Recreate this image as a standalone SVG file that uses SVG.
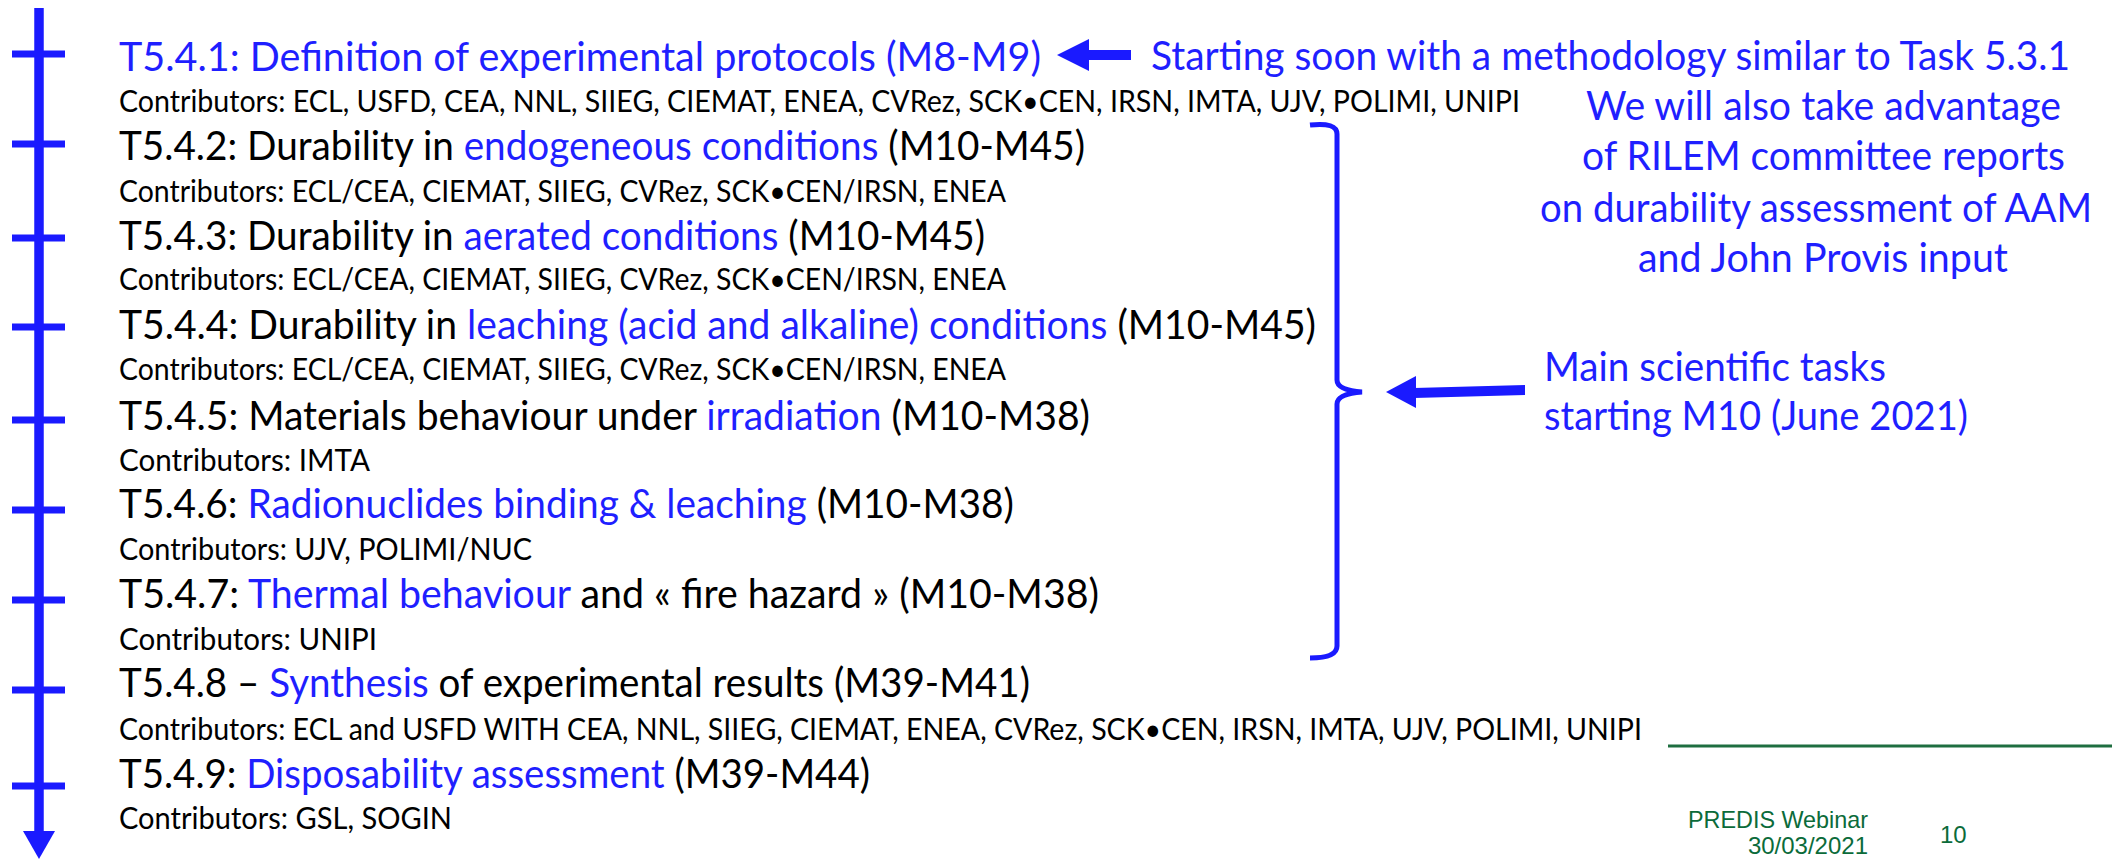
<svg xmlns="http://www.w3.org/2000/svg" width="2112" height="859" viewBox="0 0 2112 859">
<style>
.t{font-family:Lato,"Open Sans","Liberation Sans",sans-serif;font-size:40px;fill:#000}
.c{font-family:Lato,"Open Sans","Liberation Sans",sans-serif;font-size:30px;fill:#000}
.b{fill:#1f1fff}
.note{font-family:Lato,"Open Sans","Liberation Sans",sans-serif;font-size:40px;fill:#1f1fff}
.foot{font-family:"Liberation Sans",Arial,sans-serif;font-size:24px;fill:#0b6b3a}
.tick{stroke:#1a1aff;stroke-width:7}
</style>
<rect width="2112" height="859" fill="#fff"/>
<g id="timeline">
<line x1="39" y1="8" x2="39" y2="834" stroke="#1a1aff" stroke-width="9.5"/>
<polygon points="23,831 55,831 39,859" fill="#1a1aff"/>
<line class="tick" x1="12" y1="54" x2="65" y2="54"/>
<line class="tick" x1="12" y1="144" x2="65" y2="144"/>
<line class="tick" x1="12" y1="238" x2="65" y2="238"/>
<line class="tick" x1="12" y1="327" x2="65" y2="327"/>
<line class="tick" x1="12" y1="420" x2="65" y2="420"/>
<line class="tick" x1="12" y1="510" x2="65" y2="510"/>
<line class="tick" x1="12" y1="600" x2="65" y2="600"/>
<line class="tick" x1="12" y1="690" x2="65" y2="690"/>
<line class="tick" x1="12" y1="786" x2="65" y2="786"/>
</g>
<g id="task1">
<text class="t b" x="119" y="71" textLength="922" lengthAdjust="spacingAndGlyphs">T5.4.1: Definition of experimental protocols (M8-M9)</text>
<text class="c" x="119" y="112" textLength="1401" lengthAdjust="spacingAndGlyphs">Contributors: ECL, USFD, CEA, NNL, SIIEG, CIEMAT, ENEA, CVRez, SCK•CEN, IRSN, IMTA, UJV, POLIMI, UNIPI</text>
</g>
<g id="task2">
<text class="t" x="119" y="160" textLength="966" lengthAdjust="spacingAndGlyphs">T5.4.2: Durability in <tspan class="b">endogeneous conditions</tspan> (M10-M45)</text>
<text class="c" x="119" y="202" textLength="887" lengthAdjust="spacingAndGlyphs">Contributors: ECL/CEA, CIEMAT, SIIEG, CVRez, SCK•CEN/IRSN, ENEA</text>
</g>
<g id="task3">
<text class="t" x="119" y="250" textLength="866" lengthAdjust="spacingAndGlyphs">T5.4.3: Durability in <tspan class="b">aerated conditions</tspan> (M10-M45)</text>
<text class="c" x="119" y="290" textLength="887" lengthAdjust="spacingAndGlyphs">Contributors: ECL/CEA, CIEMAT, SIIEG, CVRez, SCK•CEN/IRSN, ENEA</text>
</g>
<g id="task4">
<text class="t" x="119" y="339" textLength="1197" lengthAdjust="spacingAndGlyphs">T5.4.4: Durability in <tspan class="b">leaching (acid and alkaline) conditions</tspan> (M10-M45)</text>
<text class="c" x="119" y="380" textLength="887" lengthAdjust="spacingAndGlyphs">Contributors: ECL/CEA, CIEMAT, SIIEG, CVRez, SCK•CEN/IRSN, ENEA</text>
</g>
<g id="task5">
<text class="t" x="119" y="430" textLength="971" lengthAdjust="spacingAndGlyphs">T5.4.5: Materials behaviour under <tspan class="b">irradiation</tspan> (M10-M38)</text>
<text class="c" x="119" y="471" textLength="251" lengthAdjust="spacingAndGlyphs">Contributors: IMTA</text>
</g>
<g id="task6">
<text class="t" x="119" y="518" textLength="895" lengthAdjust="spacingAndGlyphs">T5.4.6: <tspan class="b">Radionuclides binding &amp; leaching</tspan> (M10-M38)</text>
<text class="c" x="119" y="560" textLength="413" lengthAdjust="spacingAndGlyphs">Contributors: UJV, POLIMI/NUC</text>
</g>
<g id="task7">
<text class="t" x="119" y="608" textLength="980" lengthAdjust="spacingAndGlyphs">T5.4.7: <tspan class="b">Thermal behaviour</tspan> and « fire hazard » (M10-M38)</text>
<text class="c" x="119" y="650" textLength="258" lengthAdjust="spacingAndGlyphs">Contributors: UNIPI</text>
</g>
<g id="task8">
<text class="t" x="119" y="697" textLength="911" lengthAdjust="spacingAndGlyphs">T5.4.8 – <tspan class="b">Synthesis</tspan> of experimental results (M39-M41)</text>
<text class="c" x="119" y="740" textLength="1523" lengthAdjust="spacingAndGlyphs">Contributors: ECL and USFD WITH CEA, NNL, SIIEG, CIEMAT, ENEA, CVRez, SCK•CEN, IRSN, IMTA, UJV, POLIMI, UNIPI</text>
</g>
<g id="task9">
<text class="t" x="119" y="788" textLength="751" lengthAdjust="spacingAndGlyphs">T5.4.9: <tspan class="b">Disposability assessment</tspan> (M39-M44)</text>
<text class="c" x="119" y="829" textLength="333" lengthAdjust="spacingAndGlyphs">Contributors: GSL, SOGIN</text>
</g>
<g id="note-start">
<text class="note" x="1151" y="70" textLength="919" lengthAdjust="spacingAndGlyphs">Starting soon with a methodology similar to Task 5.3.1</text>
</g>
<g id="note-rilem">
<text class="note" x="1586" y="120" textLength="475" lengthAdjust="spacingAndGlyphs">We will also take advantage</text>
<text class="note" x="1582" y="170" textLength="483" lengthAdjust="spacingAndGlyphs">of RILEM committee reports</text>
<text class="note" x="1540" y="222" textLength="552" lengthAdjust="spacingAndGlyphs">on durability assessment of AAM</text>
<text class="note" x="1638" y="272" textLength="370" lengthAdjust="spacingAndGlyphs">and John Provis input</text>
</g>
<g id="note-main">
<text class="note" x="1544" y="381" textLength="342" lengthAdjust="spacingAndGlyphs">Main scientific tasks</text>
<text class="note" x="1544" y="430" textLength="424" lengthAdjust="spacingAndGlyphs">starting M10 (June 2021)</text>
</g>
<g id="connectors">
<polygon points="1057,55 1089,39 1089,71" fill="#1a1aff"/>
<rect x="1087" y="50" width="44" height="10" fill="#1a1aff"/>
<path d="M1310,125 Q1337,122 1337,134 L1337,380 Q1337,390 1362,392 Q1337,394 1337,404 L1337,646 Q1337,658 1310,658" fill="none" stroke="#1a1aff" stroke-width="5"/>
<polygon points="1386,392 1416,376 1416,408" fill="#1a1aff"/>
<polygon points="1414,388 1525,385 1525,395 1414,398" fill="#1a1aff"/>
</g>
<g id="footer">
<line x1="1668" y1="746" x2="2112" y2="746" stroke="#1e6e40" stroke-width="3"/>
<text class="foot" x="1868" y="828" text-anchor="end" textLength="180" lengthAdjust="spacingAndGlyphs">PREDIS Webinar</text>
<text class="foot" x="1868" y="854" text-anchor="end">30/03/2021</text>
<text class="foot" x="1940" y="843">10</text>
</g>
</svg>
